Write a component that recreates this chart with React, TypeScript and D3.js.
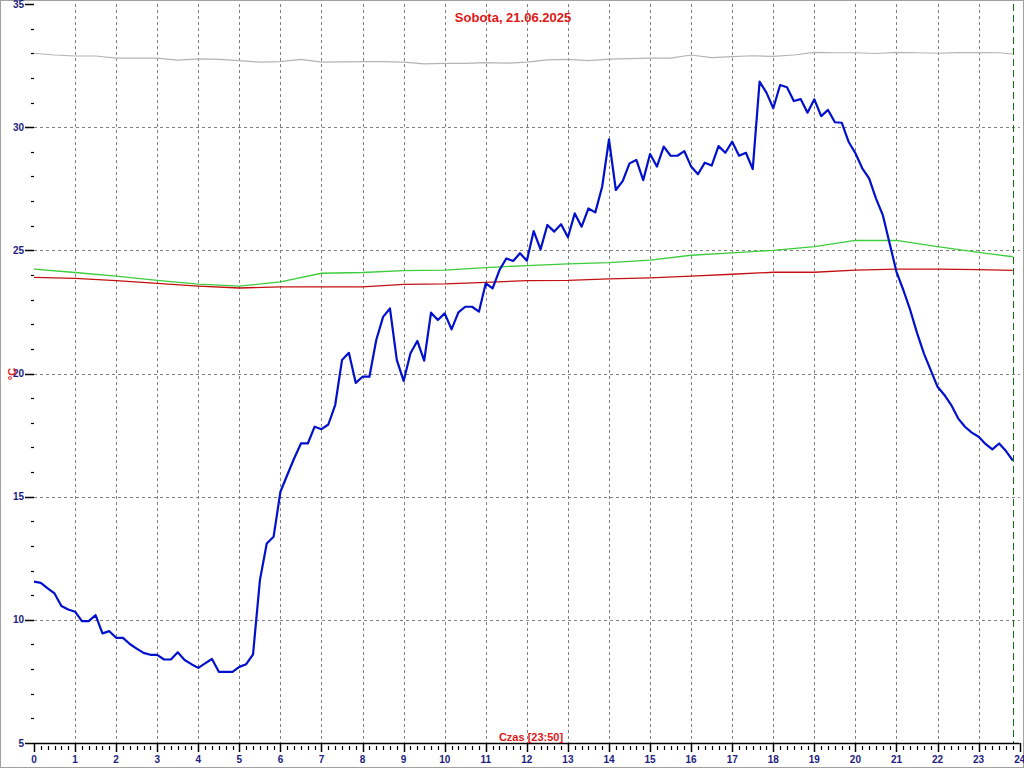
import React, { useEffect, useRef } from "react";
import * as d3 from "d3";

const W = 1024;
const H = 768;

const title = "Sobota, 21.06.2025";
const xTitle = "Czas [23:50]";
const yTitle = "°C";

// outside temperature, one value every 10 minutes, 0:00 .. 23:50
const tempOut = [
  11.55, 11.5, 11.28, 11.07, 10.56, 10.42,
  10.33, 9.95, 9.95, 10.19, 9.45, 9.54,
  9.27, 9.27, 9.02, 8.83, 8.66, 8.58,
  8.58, 8.39, 8.39, 8.68, 8.37, 8.2,
  8.05, 8.23, 8.41, 7.89, 7.89, 7.89,
  8.09, 8.2, 8.6, 11.6, 13.1, 13.37,
  15.2, 15.88, 16.55, 17.16, 17.16, 17.84,
  17.74, 17.93, 18.72, 20.55, 20.84, 19.62,
  19.87, 19.87, 21.36, 22.3, 22.64, 20.55,
  19.7, 20.82, 21.32, 20.52, 22.47, 22.17,
  22.44, 21.79, 22.48, 22.71, 22.71, 22.51,
  23.66, 23.46, 24.2, 24.67, 24.57, 24.88,
  24.58, 25.78, 25.04, 26.03, 25.76, 26.06,
  25.53, 26.5, 25.96, 26.7, 26.54, 27.58,
  29.5, 27.45, 27.81, 28.53, 28.67, 27.85,
  28.91, 28.4, 29.21, 28.84, 28.84, 29.03,
  28.4, 28.09, 28.56, 28.44, 29.23, 28.96,
  29.41, 28.84, 28.96, 28.3, 31.85, 31.4,
  30.77, 31.71, 31.62, 31.06, 31.14, 30.59,
  31.13, 30.45, 30.7, 30.2, 30.18, 29.41,
  28.94, 28.33, 27.92, 27.11, 26.43, 25.28,
  24.13, 23.39, 22.58, 21.65, 20.82, 20.14,
  19.46, 19.13, 18.72, 18.18, 17.84, 17.6,
  17.43, 17.14, 16.92, 17.16, 16.85, 16.46,
];

// grey series, read every half hour
const greyHours = [
  0, 0.5, 1, 1.5, 2, 2.5, 3, 3.5, 4, 4.5, 5, 5.5, 6, 6.5, 7, 7.5,
  8, 8.5, 9, 9.5, 10, 10.5, 11, 11.5, 12, 12.5, 13, 13.5, 14, 14.5, 15, 15.5,
  16, 16.5, 17, 17.5, 18, 18.5, 19, 19.5, 20, 20.5, 21, 21.5, 22, 22.5, 23, 23.5, 23.83,
];
const greyTemp = [
  33.0, 32.93, 32.89, 32.89, 32.8, 32.8, 32.8, 32.72, 32.77, 32.75, 32.7, 32.64, 32.66, 32.75, 32.64, 32.65,
  32.66, 32.66, 32.64, 32.57, 32.59, 32.59, 32.62, 32.6, 32.64, 32.73, 32.75, 32.7, 32.76, 32.78, 32.8, 32.8,
  32.93, 32.82, 32.86, 32.9, 32.87, 32.93, 33.04, 33.02, 33.02, 32.99, 33.04, 33.02, 33.0, 33.03, 33.03, 33.02, 32.97,
];

// green and red series, read every hour
const hourly = [
  0, 1, 2, 3, 4, 5, 6, 7, 8, 9, 10, 11, 12, 13, 14, 15, 16, 17, 18, 19, 20, 21, 22, 23, 23.83,
];
const greenTemp = [
  24.24, 24.1, 23.95, 23.78, 23.63, 23.55, 23.72, 24.07, 24.1, 24.18, 24.2, 24.3,
  24.38, 24.45, 24.5, 24.6, 24.8, 24.9, 25.0, 25.15, 25.4, 25.4, 25.15, 24.92, 24.74,
];
const redTemp = [
  23.9, 23.86, 23.77, 23.66, 23.55, 23.47, 23.52, 23.52, 23.52, 23.62, 23.64, 23.7,
  23.77, 23.78, 23.84, 23.88, 23.95, 24.03, 24.11, 24.11, 24.2, 24.24, 24.24, 24.22, 24.19,
];

const xTickLabels = d3.range(0, 25).map(String);
const yTickLabels = ["5", "10", "15", "20", "25", "30", "35"];
const nowHour = 23 + 50 / 60;

const font = "'Liberation Sans', Arial, sans-serif";
const navy = "#1c1c7c";

const Chart = () => {
  const node = useRef<SVGSVGElement>(null);

  useEffect(() => {
    const svg = d3.select(node.current);
    svg.selectAll("*").remove();

    const x = d3.scaleLinear().domain([0, 24]).range([34, 1019.7]);
    const y = d3.scaleLinear().domain([5, 35]).range([743, 4]);

    svg.append("rect")
      .attr("x", 0.5).attr("y", 0.5)
      .attr("width", W - 1).attr("height", H - 1)
      .attr("fill", "#fff").attr("stroke", "#a0a0a0");

    // grid
    const grid = svg.append("g").attr("stroke", "#808080").attr("stroke-dasharray", "3,3");
    d3.range(1, 24).forEach((h) => {
      grid.append("line")
        .attr("x1", Math.round(x(h)) + 0.5).attr("x2", Math.round(x(h)) + 0.5)
        .attr("y1", y(35)).attr("y2", y(5));
    });
    yTickLabels.slice(1, -1).forEach((v) => {
      grid.append("line")
        .attr("x1", x(0)).attr("x2", x(24))
        .attr("y1", Math.round(y(+v)) + 0.5).attr("y2", Math.round(y(+v)) + 0.5);
    });

    const tenMin = tempOut.map((_, i) => i / 6);
    const line = (xs: number[], ys: number[]) =>
      d3.line<number>().x((_, i) => x(xs[i])).y((d) => y(d))(ys);

    svg.append("path").attr("d", line(greyHours, greyTemp))
      .attr("fill", "none").attr("stroke", "#b4b4b4").attr("stroke-width", 1.2);
    svg.append("path").attr("d", line(hourly, greenTemp))
      .attr("fill", "none").attr("stroke", "#3ccc3c").attr("stroke-width", 1.3);
    svg.append("path").attr("d", line(hourly, redTemp))
      .attr("fill", "none").attr("stroke", "#c41010").attr("stroke-width", 1.3);
    svg.append("path").attr("d", line(tenMin, tempOut))
      .attr("fill", "none").attr("stroke", "#0010cc").attr("stroke-width", 2.2)
      .attr("stroke-linejoin", "round");

    // current time marker
    svg.append("line")
      .attr("x1", Math.round(x(nowHour)) + 0.5).attr("x2", Math.round(x(nowHour)) + 0.5)
      .attr("y1", y(35)).attr("y2", y(5))
      .attr("stroke", "#107010").attr("stroke-dasharray", "7,4");

    // x axis
    const ax = svg.append("g").attr("stroke", "#000");
    ax.append("line").attr("x1", x(0)).attr("x2", x(24))
      .attr("y1", 743.5).attr("y2", 743.5).attr("stroke-width", 1.5);
    d3.range(0, 24 * 6 + 1).forEach((i) => {
      const px = Math.round(x(i / 6)) + 0.5;
      const major = i % 6 === 0;
      ax.append("line").attr("x1", px).attr("x2", px)
        .attr("y1", major ? 743 : 746).attr("y2", major ? 752 : 750)
        .attr("stroke-width", major ? 1.5 : 1.2);
    });
    svg.append("g").selectAll("text").data(xTickLabels).join("text")
      .attr("x", (d) => x(+d)).attr("y", 763)
      .attr("text-anchor", "middle").attr("font-family", font)
      .attr("font-size", 10).attr("font-weight", "bold").attr("fill", navy)
      .text((d) => d);

    // y ticks (no axis line)
    d3.range(5, 36).forEach((v) => {
      const py = Math.round(y(v)) + 0.5;
      const major = v % 5 === 0;
      ax.append("line").attr("x1", major ? 25 : 31).attr("x2", 34)
        .attr("y1", py).attr("y2", py).attr("stroke-width", major ? 1.5 : 1.2);
    });
    svg.append("g").selectAll("text").data(yTickLabels).join("text")
      .attr("x", 24).attr("y", (d) => y(+d) + 3.5)
      .attr("text-anchor", "end").attr("font-family", font)
      .attr("font-size", 10).attr("font-weight", "bold").attr("fill", navy)
      .text((d) => d);

    svg.append("text").attr("x", 513).attr("y", 22)
      .attr("text-anchor", "middle").attr("font-family", font)
      .attr("font-size", 13).attr("font-weight", "bold").attr("fill", "#e01818")
      .text(title);
    svg.append("text").attr("x", 531).attr("y", 741)
      .attr("text-anchor", "middle").attr("font-family", font)
      .attr("font-size", 11).attr("font-weight", "bold").attr("fill", "#e01818")
      .text(xTitle);
    svg.append("text")
      .attr("transform", "translate(16,374) rotate(-90)")
      .attr("text-anchor", "middle").attr("font-family", font)
      .attr("font-size", 11).attr("font-weight", "bold").attr("fill", "#e01818")
      .text(yTitle);
  }, []);

  return (
    <svg ref={node} width={W} height={H}
      style={{ position: "absolute", left: 0, top: 0, display: "block" }} />
  );
};

export default function App() {
  return <Chart />;
}
